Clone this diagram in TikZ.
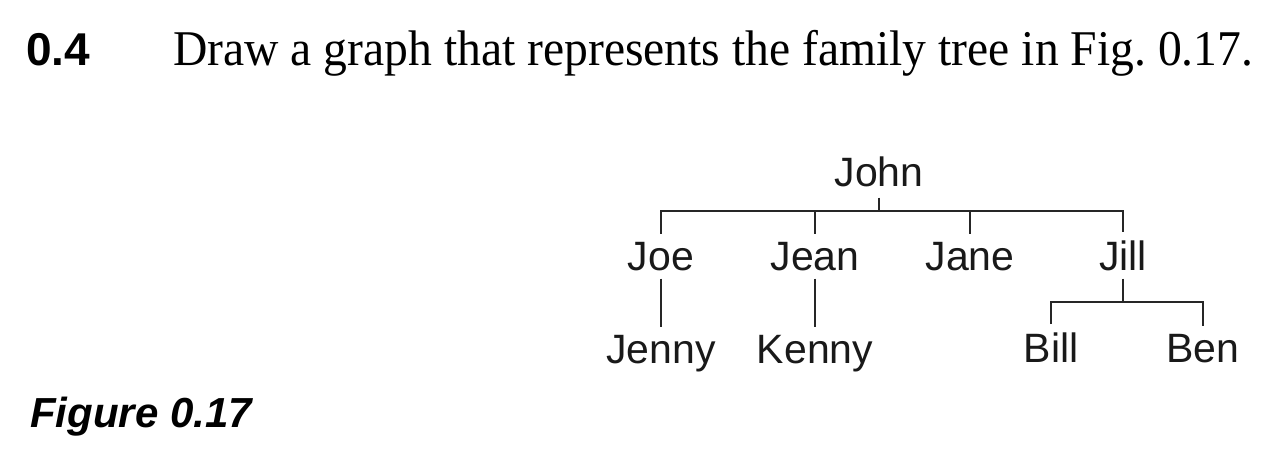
\documentclass[tikz,border=0pt]{standalone}
\usepackage{fontspec}
\setmainfont{Liberation Serif}
\newfontfamily\treesans{Liberation Sans}
\begin{document}
\begin{tikzpicture}[x=1pt,y=-1pt,
  person/.style={font=\treesans\fontsize{41}{41}\selectfont, anchor=base, inner sep=8pt, text=black!90},
  link/.style={line width=2.5pt, draw=black!85}]
\useasboundingbox (0,0) rectangle (1278,464);
% header
\node[anchor=base west, inner sep=0pt, font=\treesans\bfseries\fontsize{46}{46}\selectfont] (num) at (26,65) {0.4};
\node[anchor=base west, inner sep=0pt, font=\fontsize{50}{50}\selectfont] (task) at (173,65)
  {\scalebox{0.952}[1]{Draw a graph that represents the family tree in Fig.~0.17.}};
\node[anchor=base west, inner sep=0pt, font=\treesans\bfseries\itshape\fontsize{42}{42}\selectfont] (cap) at (30,427) {Figure 0.17};
% tree
\node[person, inner sep=11pt] (John) at (879,186) {John};
\node[person] (Joe) at (661,270) {Joe};
\node[person] (Jean) at (815,270) {Jean};
\node[person] (Jane) at (970,270) {Jane};
\node[person] (Jill) at (1123,270) {Jill};
\node[person] (Jenny) at (661,363) {Jenny};
\node[person] (Kenny) at (815,363) {Kenny};
\node[person] (Bill) at (1051,362) {Bill};
\node[person] (Ben) at (1203,362) {Ben};
\coordinate (bar) at (0,211);
\coordinate (bar2) at (0,302);
\draw[link] (Joe.north) -- (Joe.north |- bar) -- (Jill.north |- bar) -- (Jill.north);
\draw[link] (John.south) -- (John.south |- bar);
\draw[link] (Jean.north) -- (Jean.north |- bar);
\draw[link] (Jane.north) -- (Jane.north |- bar);
\draw[link] (Joe.south) -- (Jenny.north);
\draw[link] (Jean.south) -- (Kenny.north);
\draw[link] (Jill.south) -- (Jill.south |- bar2);
\draw[link] (Bill.north) -- (Bill.north |- bar2) -- (Ben.north |- bar2) -- (Ben.north);
\end{tikzpicture}
\end{document}
